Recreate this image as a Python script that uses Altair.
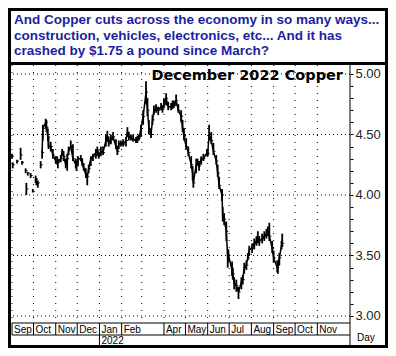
import altair as alt
import pandas as pd

TITLE_LINES = [
    "And Copper cuts across the economy in so many ways...",
    "construction, vehicles, electronics, etc... And it has",
    "crashed by $1.75 a pound since March?",
]
CHART_LABEL = "December 2022 Copper"
AXIS_UNIT = "Day"

dates = [
    "2021-09-01", "2021-09-02", "2021-09-08", "2021-09-13", "2021-09-15", "2021-09-20",
    "2021-09-21", "2021-09-23", "2021-09-27", "2021-09-30", "2021-10-04", "2021-10-05",
    "2021-10-07", "2021-10-11", "2021-10-13", "2021-10-14", "2021-10-18", "2021-10-19",
    "2021-10-21", "2021-10-22", "2021-10-25", "2021-10-28", "2021-11-01", "2021-11-03",
    "2021-11-04", "2021-11-08", "2021-11-10", "2021-11-12", "2021-11-15", "2021-11-17",
    "2021-11-19", "2021-11-22", "2021-11-25", "2021-11-29", "2021-11-30", "2021-12-02",
    "2021-12-06", "2021-12-08", "2021-12-10", "2021-12-13", "2021-12-15", "2021-12-17",
    "2021-12-20", "2021-12-23", "2021-12-27", "2021-12-29", "2021-12-31", "2022-01-03",
    "2022-01-06", "2022-01-10", "2022-01-12", "2022-01-14", "2022-01-17", "2022-01-20",
    "2022-01-24", "2022-01-26", "2022-01-28", "2022-01-31", "2022-02-03", "2022-02-07",
    "2022-02-09", "2022-02-11", "2022-02-14", "2022-02-17", "2022-02-21", "2022-02-23",
    "2022-02-25", "2022-02-28", "2022-03-03", "2022-03-07", "2022-03-09", "2022-03-11",
    "2022-03-14", "2022-03-16", "2022-03-18", "2022-03-21", "2022-03-24", "2022-03-28",
    "2022-03-30", "2022-04-01", "2022-04-04", "2022-04-07", "2022-04-11", "2022-04-13",
    "2022-04-15", "2022-04-18", "2022-04-21", "2022-04-25", "2022-04-27", "2022-04-29",
    "2022-05-02", "2022-05-05", "2022-05-09", "2022-05-11", "2022-05-12", "2022-05-16",
    "2022-05-18", "2022-05-20", "2022-05-23", "2022-05-26", "2022-05-31", "2022-06-01",
    "2022-06-03", "2022-06-06", "2022-06-09", "2022-06-13", "2022-06-15", "2022-06-17",
    "2022-06-21", "2022-06-22", "2022-06-24", "2022-06-27", "2022-06-29", "2022-06-30",
    "2022-07-05", "2022-07-06", "2022-07-08", "2022-07-11", "2022-07-14", "2022-07-18",
    "2022-07-20", "2022-07-22", "2022-07-25", "2022-07-27", "2022-07-29", "2022-08-02",
    "2022-08-05", "2022-08-08", "2022-08-10", "2022-08-12", "2022-08-16", "2022-08-19",
    "2022-08-22", "2022-08-24", "2022-08-26", "2022-08-30", "2022-09-01", "2022-09-06",
    "2022-09-07", "2022-09-09", "2022-09-12", "2022-09-13",
]
lows = [
    4.30, 4.22, 4.26, 4.29, 4.25, 4.18, 4.00, 4.16, 4.14, 4.02, 4.10, 4.08,
    4.06, 4.22, 4.30, 4.45, 4.55, 4.52, 4.45, 4.38, 4.36, 4.30, 4.26, 4.25,
    4.22, 4.27, 4.32, 4.28, 4.22, 4.20, 4.33, 4.38, 4.28, 4.22, 4.20, 4.24,
    4.28, 4.24, 4.20, 4.14, 4.08, 4.18, 4.24, 4.28, 4.30, 4.32, 4.30, 4.32,
    4.33, 4.40, 4.44, 4.40, 4.42, 4.45, 4.38, 4.33, 4.38, 4.40, 4.40, 4.40,
    4.48, 4.45, 4.45, 4.44, 4.43, 4.43, 4.45, 4.48, 4.58, 4.75, 4.65, 4.50,
    4.47, 4.58, 4.66, 4.68, 4.66, 4.70, 4.68, 4.72, 4.74, 4.70, 4.70, 4.71,
    4.72, 4.74, 4.68, 4.60, 4.52, 4.45, 4.38, 4.32, 4.22, 4.12, 4.06, 4.18,
    4.24, 4.20, 4.25, 4.28, 4.32, 4.32, 4.45, 4.42, 4.33, 4.25, 4.15, 4.05,
    3.95, 3.78, 3.75, 3.62, 3.40, 3.45, 3.33, 3.30, 3.22, 3.20, 3.14, 3.22,
    3.26, 3.35, 3.38, 3.46, 3.50, 3.52, 3.55, 3.58, 3.60, 3.58, 3.60, 3.62,
    3.64, 3.66, 3.62, 3.52, 3.44, 3.36, 3.35, 3.42, 3.55, 3.57,
]
highs = [
    4.34, 4.27, 4.29, 4.39, 4.28, 4.22, 4.10, 4.19, 4.18, 4.05, 4.16, 4.14,
    4.12, 4.28, 4.37, 4.58, 4.63, 4.62, 4.55, 4.48, 4.44, 4.38, 4.32, 4.32,
    4.30, 4.33, 4.38, 4.36, 4.30, 4.34, 4.40, 4.45, 4.42, 4.30, 4.28, 4.32,
    4.33, 4.30, 4.26, 4.22, 4.18, 4.25, 4.32, 4.34, 4.38, 4.40, 4.36, 4.40,
    4.40, 4.50, 4.53, 4.48, 4.50, 4.52, 4.46, 4.40, 4.45, 4.45, 4.46, 4.48,
    4.56, 4.52, 4.50, 4.50, 4.48, 4.49, 4.50, 4.58, 4.70, 4.94, 4.80, 4.62,
    4.55, 4.66, 4.74, 4.75, 4.73, 4.76, 4.74, 4.80, 4.84, 4.77, 4.76, 4.78,
    4.78, 4.83, 4.75, 4.70, 4.62, 4.55, 4.47, 4.40, 4.32, 4.24, 4.15, 4.30,
    4.30, 4.28, 4.32, 4.34, 4.38, 4.38, 4.58, 4.52, 4.43, 4.33, 4.25, 4.15,
    4.05, 3.90, 3.85, 3.78, 3.55, 3.55, 3.45, 3.40, 3.32, 3.30, 3.24, 3.32,
    3.34, 3.44, 3.46, 3.52, 3.58, 3.60, 3.64, 3.66, 3.70, 3.66, 3.68, 3.70,
    3.72, 3.74, 3.77, 3.62, 3.54, 3.46, 3.45, 3.52, 3.62, 3.68,
]
closes = [
    4.32, 4.25, 4.28, 4.33, 4.27, 4.20, 4.05, 4.18, 4.16, 4.03, 4.13, 4.10,
    4.10, 4.25, 4.35, 4.55, 4.60, 4.56, 4.48, 4.40, 4.40, 4.33, 4.28, 4.29,
    4.27, 4.30, 4.36, 4.32, 4.25, 4.30, 4.37, 4.40, 4.30, 4.25, 4.24, 4.30,
    4.30, 4.26, 4.22, 4.17, 4.15, 4.22, 4.30, 4.32, 4.35, 4.37, 4.33, 4.36,
    4.35, 4.45, 4.48, 4.43, 4.46, 4.48, 4.40, 4.36, 4.42, 4.43, 4.42, 4.45,
    4.52, 4.48, 4.47, 4.46, 4.45, 4.46, 4.47, 4.55, 4.65, 4.85, 4.70, 4.55,
    4.50, 4.62, 4.70, 4.72, 4.70, 4.73, 4.71, 4.76, 4.80, 4.73, 4.73, 4.75,
    4.74, 4.78, 4.70, 4.65, 4.55, 4.48, 4.40, 4.35, 4.25, 4.18, 4.10, 4.25,
    4.27, 4.24, 4.30, 4.30, 4.35, 4.34, 4.50, 4.45, 4.36, 4.28, 4.18, 4.08,
    4.00, 3.82, 3.80, 3.70, 3.48, 3.50, 3.38, 3.35, 3.27, 3.25, 3.20, 3.28,
    3.30, 3.40, 3.42, 3.48, 3.55, 3.56, 3.60, 3.62, 3.64, 3.62, 3.64, 3.66,
    3.68, 3.70, 3.66, 3.56, 3.48, 3.40, 3.42, 3.48, 3.58, 3.60,
]

month_starts = [
    "2021-09-01", "2021-10-01", "2021-11-01", "2021-12-01", "2022-01-01", "2022-02-01",
    "2022-03-01", "2022-04-01", "2022-05-01", "2022-06-01", "2022-07-01", "2022-08-01",
    "2022-09-01", "2022-10-01", "2022-11-01",
]
month_names = ["Sep", "Oct", "Nov", "Dec", "Jan", "Feb", "Mar", "Apr", "May", "Jun",
               "Jul", "Aug", "Sep", "Oct", "Nov"]
month_labelled = [True, True, True, True, True, True, False, True, True, True,
                  True, True, True, True, True]
year_starts = ["2022-01-01"]
year_names = ["2022"]
grid_prices = [3.0, 3.5, 4.0, 4.5, 5.0]
tick_prices = [3.0, 3.1, 3.2, 3.3, 3.4, 3.5, 3.6, 3.7, 3.8, 3.9, 4.0,
               4.1, 4.2, 4.3, 4.4, 4.5, 4.6, 4.7, 4.8, 4.9, 5.0]

W, H = 342, 258
FONT = "Liberation Sans"

bars = pd.DataFrame({"date": dates, "low": lows, "high": highs, "close": closes})
joined = bars[bars["date"] >= "2021-10-13"]
months = pd.DataFrame({"start": month_starts, "name": month_names, "shown": month_labelled})
labelled = months[months["shown"]]
years = pd.DataFrame({"start": year_starts, "name": year_names})
grid = pd.DataFrame({"price": grid_prices})
one = pd.DataFrame({"k": [0]})

x_scale = alt.Scale(
    type="utc",
    domain=[alt.DateTime(year=2021, month=8, date=26, hours=10, utc=True),
            alt.DateTime(year=2022, month=12, date=16, hours=14, utc=True)],
)
y_scale = alt.Scale(domain=[2.942, 5.074], nice=False, zero=False)
y_axis = alt.Axis(
    orient="right", values=tick_prices,
    labelExpr="abs(datum.value*2 - round(datum.value*2)) < 0.001 ? format(datum.value, '.2f') : ''",
    tickSize=3, tickColor="black", tickWidth=1, domain=False, grid=False,
    labelFont=FONT, labelFontSize=13, labelColor="#222222", labelPadding=2,
    labelOverlap=False, title=None,
)

def X(field):
    return alt.X(field, scale=x_scale, axis=None)

def Y(field):
    return alt.Y(field, scale=y_scale, axis=y_axis)

grid_h = alt.Chart(grid).mark_rule(color="black", strokeWidth=1, strokeDash=[1, 3]).encode(
    y=Y("price:Q"))
grid_v = alt.Chart(months).mark_rule(color="black", strokeWidth=1, strokeDash=[1, 6]).encode(
    x=X("start:T"))

hl = alt.Chart(bars).mark_rule(color="black", strokeWidth=1.8).encode(
    x=X("date:T"), y=Y("low:Q"), y2="high:Q")
close_tick = alt.Chart(bars).mark_rule(color="black", strokeWidth=1, x2Offset=2).encode(
    x=X("date:T"), x2="date:T", y=Y("close:Q"))
line = alt.Chart(joined).mark_line(color="black", strokeWidth=1.5).encode(
    x=X("date:T"), y=Y("close:Q"))

row_top = alt.Chart(months.iloc[:1]).mark_rule(color="black", strokeWidth=1).encode(
    x=X("start:T"), x2=alt.value(W), y=alt.value(H))
row_mid = alt.Chart(months.iloc[:1]).mark_rule(color="black", strokeWidth=1).encode(
    x=X("start:T"), x2=alt.value(W), y=alt.value(H + 12))
month_sep = alt.Chart(labelled).mark_rule(color="black", strokeWidth=1).encode(
    x=X("start:T"), y=alt.value(H), y2=alt.value(H + 12))
month_text = alt.Chart(labelled).mark_text(
    align="left", baseline="middle", dx=2, font=FONT, fontSize=10, color="black").encode(
    x=X("start:T"), y=alt.value(H + 6.5), text="name:N")
year_sep = alt.Chart(years).mark_rule(color="black", strokeWidth=1).encode(
    x=X("start:T"), y=alt.value(H + 12), y2=alt.value(H + 22))
year_text = alt.Chart(years).mark_text(
    align="left", baseline="middle", dx=2, font=FONT, fontSize=10, color="black").encode(
    x=X("start:T"), y=alt.value(H + 17.5), text="name:N")

unit_text = alt.Chart(one).mark_text(
    align="left", baseline="middle", font=FONT, fontSize=10, color="black").encode(
    x=alt.value(W + 7), y=alt.value(H + 15), text=alt.value(AXIS_UNIT))
right_line = alt.Chart(one).mark_rule(color="black", strokeWidth=1).encode(
    x=alt.value(W), y=alt.value(-1), y2=alt.value(H + 22))
sep_line = alt.Chart(one).mark_rule(color="black", strokeWidth=3).encode(
    x=alt.value(0), x2=alt.value(380), y=alt.value(-1.5))
frame = alt.Chart(one).mark_rect(fillOpacity=0, stroke="black", strokeWidth=3).encode(
    x=alt.value(1.5), x2=alt.value(378.5), y=alt.value(-55.5), y2=alt.value(H + 23.5))

title_text = alt.Chart(one).mark_text(
    align="left", baseline="alphabetic", font=FONT, fontSize=13.5, fontWeight="bold",
    color="#1c1f9e", lineHeight=15.5).encode(
    x=alt.value(6), y=alt.value(-41), text=alt.value(TITLE_LINES))
label_text = alt.Chart(one).mark_text(
    align="right", baseline="alphabetic", font="DejaVu Sans", fontSize=14.5,
    fontWeight="bold", color="black").encode(
    x=alt.value(335), y=alt.value(15), text=alt.value(CHART_LABEL))

chart = alt.layer(
    grid_h, grid_v, hl, close_tick, line,
    row_top, row_mid, month_sep, month_text, year_sep, year_text,
    unit_text, right_line, sep_line, frame, title_text, label_text,
).properties(
    width=W, height=H,
    autosize=alt.AutoSizeParams(type="none"),
    padding={"left": 0, "top": 57, "right": 38, "bottom": 25},
    background="white",
).configure_view(strokeWidth=0)

chart.save("out.html", embed_options={"renderer": "svg", "actions": False})
